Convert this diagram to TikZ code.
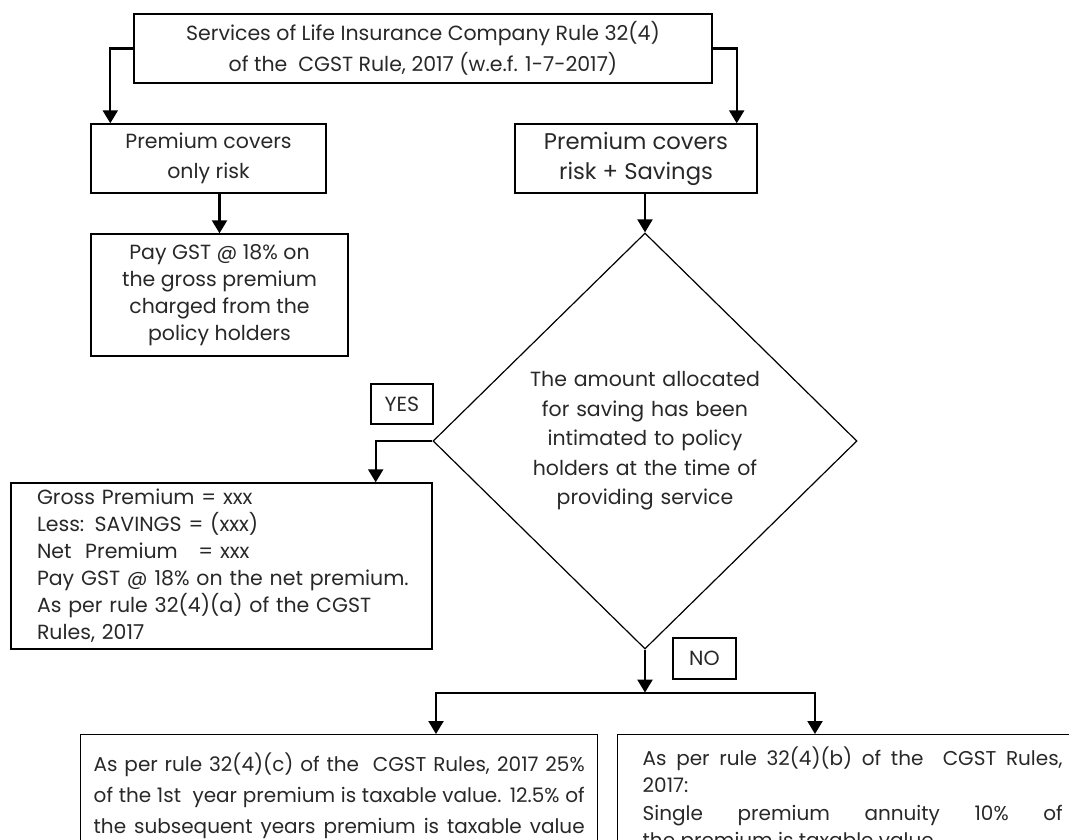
\documentclass[tikz,border=0pt]{standalone}
\usepackage{fontspec}
\setmainfont{Poppins}
\usetikzlibrary{shapes.geometric, arrows.meta, positioning}
\definecolor{InkGray}{RGB}{40,40,40}

\begin{document}
\begin{tikzpicture}[x=1pt, y=-1pt,
  box/.style={draw=black, line width=1.4pt, text=InkGray, inner sep=0pt,
              align=center, font=\fontsize{20.5}{27}\selectfont},
  arr/.style={-{Triangle[length=13pt, width=15pt]}, line width=2.2pt},
  tag/.style={box, minimum width=62pt, minimum height=40pt},
  note/.style={box, anchor=north west, align=justify},
]
\useasboundingbox (0,0) rectangle (1069,840);
\clip (0,0) rectangle (1069,840);

\node[box, minimum width=578pt, minimum height=69pt,
      font=\fontsize{20.5}{31}\selectfont] (rule) at (423,48.5)
  {Services of Life Insurance Company Rule 32(4)\\of the\ \ CGST Rule, 2017 (w.e.f. 1-7-2017)};

\node[box, minimum width=235pt, minimum height=69pt,
      font=\fontsize{20.5}{30}\selectfont] (risk) at (208.5,158.5)
  {Premium covers\\only risk};
\node[box, minimum width=242pt, minimum height=69pt,
      font=\fontsize{22.7}{30}\selectfont] (sav) at (636,158.5)
  {Premium covers\\risk + Savings};

\node[box, minimum width=257pt, minimum height=122pt] (pay) at (219.5,295)
  {Pay GST @ 18\% on\\the gross premium\\charged from the\\policy holders};

\node[box, shape=diamond, line width=1.2pt, minimum width=424pt,
      minimum height=416pt, text width=260pt,
      font=\fontsize{20.5}{29.5}\selectfont] (ask) at (645,441)
  {The amount allocated\\for saving has been\\intimated to policy\\holders at the time of\\providing service};

\node[tag] (yes) at (402,404) {YES};
\node[tag, minimum width=63pt, minimum height=41pt] (no) at (704.5,658.5) {NO};

\node[box, minimum width=421pt, minimum height=166pt, align=left,
      text width=395pt, inner xsep=13pt] (gross) at (221.5,566)
  {\hyphenpenalty=10000 \leftskip=13pt Gross Premium = xxx\\
   Less: SAVINGS = (xxx)\\
   Net\ \ Premium\ \ \ = xxx\\
   Pay GST @ 18\% on the net premium.\\
   As per rule 32(4)(a) of the CGST\\
   Rules, 2017\par};

\node[note, text width=491pt, inner xsep=13pt, inner ysep=18pt,
      font=\fontsize{20}{31}\selectfont] (ruleC) at (80,734)
  {\parfillskip=0pt As per rule 32(4)(c) of the\ \ CGST Rules, 2017 25\%\linebreak
   of the 1st\ \ year premium is taxable value. 12.5\% of\linebreak
   the subsequent years premium is taxable value\par};
\node[note, text width=420pt, inner xsep=25pt, inner ysep=12pt,
      font=\fontsize{20}{27.5}\selectfont] (ruleB) at (617,734)
  {As per rule 32(4)(b) of the\ \ CGST Rules,\linebreak 2017:\\
   Single premium annuity 10\% of\linebreak the premium is taxable value\par};

\coordinate[below=43pt of ask.south] (fork);

\draw[arr] (rule.west) -| ([xshift=20pt]risk.north west);
\draw[arr] (rule.east) -| ([xshift=-21pt]sav.north east);
\draw[arr] (risk.south -| pay.north) -- (pay.north);
\draw[arr] (sav.south -| ask.north) -- (ask.north);
\draw[arr] (ask.west) -| ([xshift=-57pt]gross.north east);
\draw[arr] (ask.south) -- (fork);
\draw[arr] (fork) -| ([xshift=356pt]ruleC.north west);
\draw[arr] (fork) -| ([xshift=198pt]ruleB.north west);
\end{tikzpicture}
\end{document}
